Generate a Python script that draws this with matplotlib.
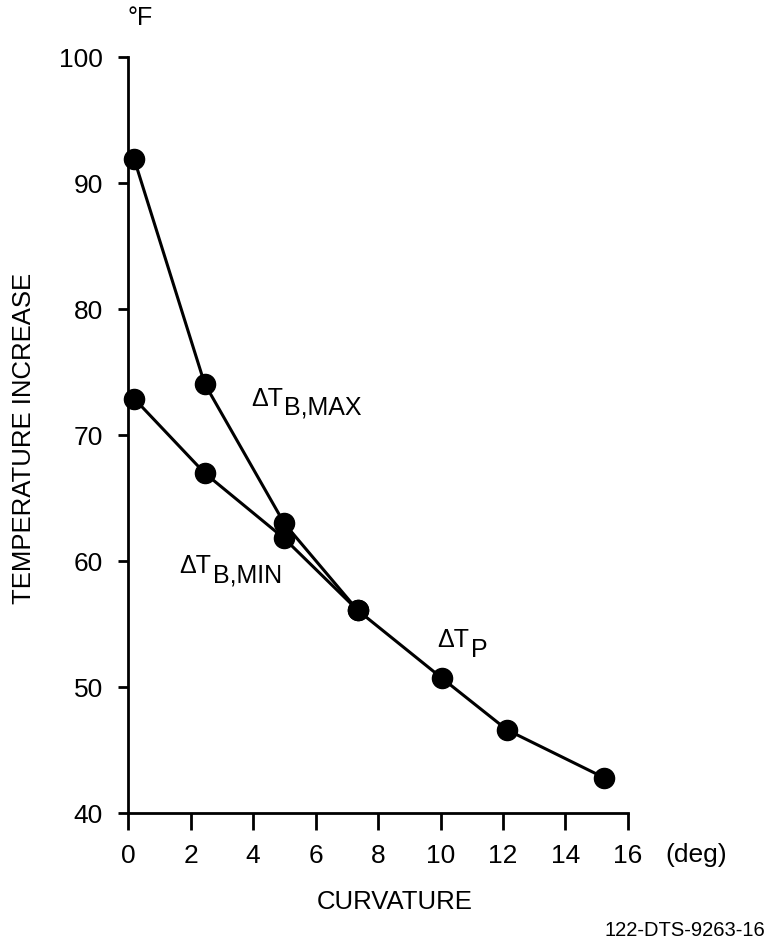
import matplotlib.pyplot as plt

plt.rcParams['font.family'] = ['Liberation Sans', 'DejaVu Sans']

# Delta T_B,MAX continues into Delta T_P beyond the merge point
curv_max = [0.2, 2.45, 5.0, 7.35, 10.05, 12.13, 15.24]
temp_max = [91.9, 74.1, 63.0, 56.1, 50.7, 46.6, 42.8]

# Delta T_B,MIN
curv_min = [0.2, 2.45, 5.0, 7.35]
temp_min = [72.9, 67.0, 61.8, 56.1]

x_ticks = [0, 2, 4, 6, 8, 10, 12, 14, 16]
y_ticks = [40, 50, 60, 70, 80, 90, 100]

# curve labels: (main, subscript, x, y)
curve_labels = [
    ('ΔT', 'B,MAX', 3.93, 72.9),
    ('ΔT', 'B,MIN', 1.65, 59.6),
    ('ΔT', 'P', 9.9, 53.7),
]

fig = plt.figure(figsize=(7.68, 9.41), dpi=100)
ax = fig.add_axes([0.1667, 0.136, 0.651, 0.803])

style = dict(color='black', linewidth=2.2, marker='o', markersize=14.5, clip_on=False, zorder=3)
ax.plot(curv_max, temp_max, **style)
ax.plot(curv_min, temp_min, **style)

ax.set_xlim(0, 16)
ax.set_ylim(40, 100)
ax.set_xticks(x_ticks)
ax.set_yticks(y_ticks)

for s in ['top', 'right']:
    ax.spines[s].set_visible(False)
for s in ['left', 'bottom']:
    ax.spines[s].set_linewidth(2.0)
ax.tick_params(axis='x', direction='out', length=12, width=2.0, labelsize=19, pad=10)
ax.tick_params(axis='y', direction='out', length=7, width=2.0, labelsize=19, pad=11)

for main, sub, x, y in curve_labels:
    t = ax.text(x, y, main, fontsize=18, va='center', ha='left')
    ax.annotate(sub, xy=(1, 0.5), xycoords=t, xytext=(1, -6.5), textcoords='offset points',
                fontsize=18, va='center', ha='left')

fig.text(0.031, 0.5345, 'TEMPERATURE INCREASE', fontsize=18.5, rotation=90, ha='center', va='center')
fig.text(0.514, 0.041, 'CURVATURE', fontsize=18.5, ha='center', va='center')
fig.text(0.182, 0.981, '°F', fontsize=18, ha='center', va='center')
fig.text(0.907, 0.091, '(deg)', fontsize=19, ha='center', va='center')
fig.text(0.996, 0.011, '122-DTS-9263-16', fontsize=14.5, ha='right', va='center')

fig.savefig('out.png', dpi=100, facecolor='white')
